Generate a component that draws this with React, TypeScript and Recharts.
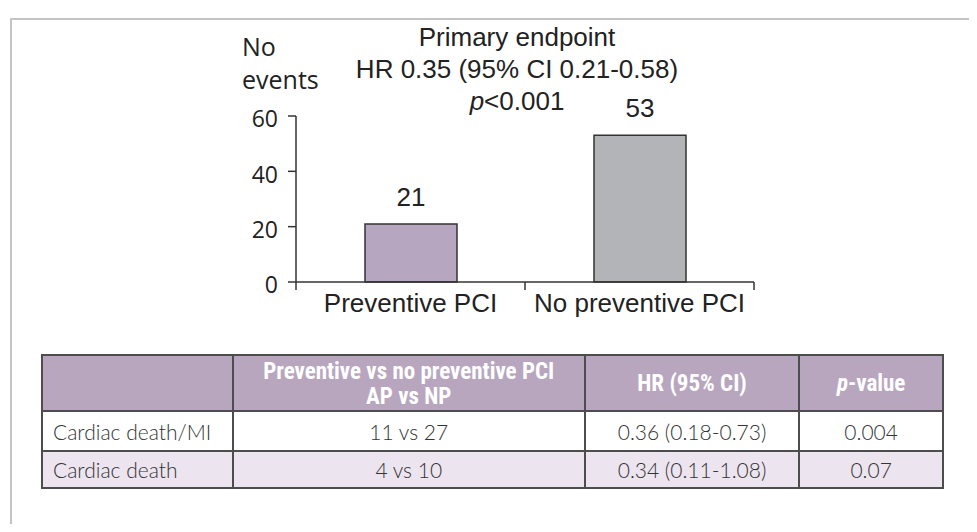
import React from "react";
import { BarChart, Bar, XAxis, YAxis, Cell, LabelList } from "recharts";

const categories = ["Preventive PCI", "No preventive PCI"];
const events = [21, 53];
const barColors = ["#b7a6bf", "#b3b4b7"];
const yTicks = [0, 20, 40, 60];

const outcomes = ["Cardiac death/MI", "Cardiac death"];
const eventCounts = ["11 vs 27", "4 vs 10"];
const hazardRatios = ["0.36 (0.18-0.73)", "0.34 (0.11-1.08)"];
const pValues = ["0.004", "0.07"];

const chartData = categories.map((name, i) => ({ name, events: events[i] }));

const CHART_W = 961;
const CHART_H = 330;
const MARGIN = { top: 108, left: 228, right: 215, bottom: 16 };
const Y_AXIS_W = 60;
const PLOT_W = CHART_W - MARGIN.left - MARGIN.right - Y_AXIS_W;

const AXIS = "#333";
const ARIAL = "'Liberation Sans', Arial, sans-serif";

function CategoryTick(props: any) {
    const { x, y, payload, index } = props;
    const band = PLOT_W / categories.length;
    const axisY = y - 12;
    return (
        <g>
            {index === 0 && (
                <line x1={x - band / 2} x2={x - band / 2} y1={axisY} y2={axisY + 8} stroke={AXIS} strokeWidth={1.5} />
            )}
            <line x1={x + band / 2} x2={x + band / 2} y1={axisY} y2={axisY + 8} stroke={AXIS} strokeWidth={1.5} />
            <text x={x} y={y} dy="0.71em" textAnchor="middle" fill="#222" fontSize={26} fontFamily={ARIAL}>
                {payload.value}
            </text>
        </g>
    );
}

function ValueTick(props: any) {
    const { x, y, payload } = props;
    return (
        <text
            x={x - 6}
            y={y + 3}
            dy="0.36em"
            textAnchor="end"
            fill="#222"
            fontSize={23}
            fontFamily="'Open Sans', sans-serif"
        >
            {payload.value}
        </text>
    );
}

const cellBorder = "2px solid #4d4d4d";

export default function App() {
    return (
        <div style={{ position: "relative", width: CHART_W, height: 516 }}>
            <div
                style={{
                    position: "absolute",
                    left: 2,
                    top: 10,
                    right: 0,
                    bottom: 0,
                    borderTop: "2px solid #c4c4c4",
                    borderLeft: "2px solid #c4c4c4",
                }}
            />
            <BarChart
                width={CHART_W}
                height={CHART_H}
                data={chartData}
                margin={MARGIN}
                style={{ position: "absolute", left: 0, top: 0 }}
            >
                <XAxis
                    dataKey="name"
                    height={40}
                    tickLine={false}
                    tickSize={8}
                    tickMargin={4}
                    axisLine={{ stroke: AXIS, strokeWidth: 1.5 }}
                    tick={<CategoryTick />}
                />
                <YAxis
                    width={Y_AXIS_W}
                    domain={[0, 60]}
                    ticks={yTicks}
                    tickSize={8}
                    tickMargin={4}
                    axisLine={{ stroke: AXIS, strokeWidth: 1.5 }}
                    tickLine={{ stroke: AXIS, strokeWidth: 1.5 }}
                    tick={<ValueTick />}
                />
                <Bar dataKey="events" barSize={92} stroke="#333" strokeWidth={1.5} isAnimationActive={false}>
                    {chartData.map((entry, index) => (
                        <Cell key={`cell-${index}`} fill={barColors[index]} />
                    ))}
                    <LabelList
                        dataKey="events"
                        position="top"
                        offset={18}
                        fill="#222"
                        fontSize={26}
                        fontFamily={ARIAL}
                    />
                </Bar>
            </BarChart>

            <div
                style={{
                    position: "absolute",
                    left: 234,
                    top: 22,
                    fontFamily: "'Open Sans', sans-serif",
                    fontSize: 25,
                    lineHeight: "33px",
                    color: "#222",
                }}
            >
                No
                <br />
                events
            </div>
            <div
                style={{
                    position: "absolute",
                    left: 259,
                    top: 13,
                    width: 500,
                    textAlign: "center",
                    fontFamily: ARIAL,
                    fontSize: 26,
                    lineHeight: "32px",
                    color: "#222",
                }}
            >
                <div>Primary endpoint</div>
                <div>HR 0.35 (95% CI 0.21-0.58)</div>
                <div>
                    <i>p</i>&lt;0.001
                </div>
            </div>

            <table
                style={{
                    position: "absolute",
                    left: 33,
                    top: 346,
                    width: 903,
                    borderCollapse: "collapse",
                    fontFamily: "Lato, sans-serif",
                    fontWeight: 300,
                    fontSize: 21,
                    color: "#333",
                }}
            >
                <colgroup>
                    <col style={{ width: 191 }} />
                    <col style={{ width: 353 }} />
                    <col style={{ width: 215 }} />
                    <col style={{ width: 144 }} />
                </colgroup>
                <thead>
                    <tr
                        style={{
                            height: 56,
                            background: "#b8a6bf",
                            color: "#fff",
                            fontFamily: "'Liberation Sans Narrow', 'Roboto Condensed', Roboto, sans-serif",
                            fontWeight: 700,
                            fontSize: 23,
                            lineHeight: "25px",
                        }}
                    >
                        <th style={{ border: cellBorder, padding: 0 }} />
                        <th style={{ border: cellBorder, padding: "2px 0 0 0" }}>
                            Preventive vs no preventive PCI
                            <br />
                            AP vs NP
                        </th>
                        <th style={{ border: cellBorder, padding: 0 }}>HR (95% CI)</th>
                        <th style={{ border: cellBorder, padding: 0 }}>
                            <i>p</i>-value
                        </th>
                    </tr>
                </thead>
                <tbody>
                    {outcomes.map((o, i) => (
                        <tr key={o} style={{ height: i === 0 ? 40 : 37, background: i === 0 ? "#fff" : "#ece4ee" }}>
                            <td style={{ border: cellBorder, padding: "0 0 0 10px" }}>{o}</td>
                            <td style={{ border: cellBorder, padding: 0, textAlign: "center" }}>{eventCounts[i]}</td>
                            <td style={{ border: cellBorder, padding: 0, textAlign: "center" }}>{hazardRatios[i]}</td>
                            <td style={{ border: cellBorder, padding: 0, textAlign: "center" }}>{pValues[i]}</td>
                        </tr>
                    ))}
                </tbody>
            </table>
        </div>
    );
}
